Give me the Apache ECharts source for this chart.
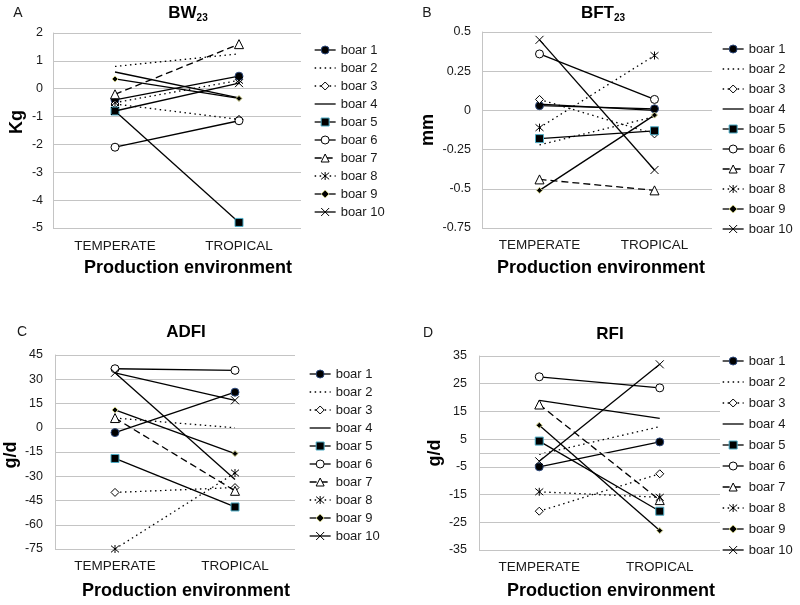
<!DOCTYPE html>
<html><head><meta charset="utf-8">
<script src="https://cdn.jsdelivr.net/npm/echarts@6/dist/echarts.min.js"></script>
<style>html,body{margin:0;padding:0;background:#fff}#c{width:800px;height:605px}</style>
</head><body><div id="c"></div>
<script>
// ---------- data ----------
const categories = ['TEMPERATE', 'TROPICAL'];
const boarNames = ['boar 1','boar 2','boar 3','boar 4','boar 5','boar 6','boar 7','boar 8','boar 9','boar 10'];
// [temperate, tropical] per boar
const bw23 = [[-0.4,0.45],[0.8,1.25],[-0.55,-1.1],[0.6,-0.33],[-0.8,-4.8],[-2.1,-1.15],[-0.2,1.6],[-0.5,0.3],[0.35,-0.35],[-0.8,0.2]];
const bft23 = [[0.03,0.01],[-0.22,-0.04],[0.07,-0.15],[0.04,0.0],[-0.18,-0.13],[0.36,0.07],[-0.44,-0.51],[-0.11,0.35],[-0.51,-0.03],[0.45,-0.38]];
const adfi = [[-3,22],[6,0],[-40,-37],[34,-32],[-19,-49],[36.5,35.5],[6,-39],[-75,-28],[11,-16],[34,17]];
const rfi = [[-5,4],[-0.5,9.5],[-21,-7.5],[19,12.5],[4.3,-21],[27.5,23.5],[17.5,-17],[-14,-16],[10,-28],[-3,32]];
const bwTicks = [-5,-4,-3,-2,-1,0,1,2];
const bftTicks = [-0.75,-0.5,-0.25,0,0.25,0.5];
const adfiTicks = [-75,-60,-45,-30,-15,0,15,30,45];
const rfiTicks = [-35,-25,-15,-5,5,15,25,35];
const panelTitles = [['BW','23'],['BFT','23'],['ADFI',''],['RFI','']];
const panelLetters = ['A','B','C','D'];
const yNames = ['Kg','mm','g/d','g/d'];
const xName = 'Production environment';

// ---------- styles ----------
const FONT = '"Liberation Sans", Arial, sans-serif';
const GRIDC = '#c4c4c4';
const TXT = '#1a1a1a';
const AST = 'path://M0,1L10,11M0,11L10,1M5,0L5,12';
const XS = 'path://M0,0L10,10M0,10L10,0';
const DOT = [1.5, 3.5], DASH = [7, 4];
const boarStyle = [
  {ln:'solid', sym:'circle',  sz:8, fill:'#000', stroke:'#2e4a7d'},
  {ln:DOT,     sym:'circle',  sz:0, fill:'transparent', stroke:'transparent'},
  {ln:DOT,     sym:'diamond', sz:8, fill:'#fff', stroke:'#000'},
  {ln:'solid', sym:'circle',  sz:0, fill:'transparent', stroke:'transparent'},
  {ln:'solid', sym:'rect',    sz:8, fill:'#000', stroke:'#4bacc6'},
  {ln:'solid', sym:'circle',  sz:8, fill:'#fff', stroke:'#000'},
  {ln:DASH,    sym:'triangle',sz:9, fill:'#fff', stroke:'#000'},
  {ln:DOT,     sym:AST,       sz:8, fill:'none', stroke:'#000'},
  {ln:'solid', sym:'diamond', sz:6, fill:'#000', stroke:'#d2d28c'},
  {ln:'solid', sym:XS,        sz:8, fill:'none', stroke:'#000'}
];

const panels = [bw23, bft23, adfi, rfi];
const tickSets = [bwTicks, bftTicks, adfiTicks, rfiTicks];
const grids = [
  {left:53, top:33, width:248, height:195},
  {left:482, top:32, width:230, height:196},
  {left:55, top:355, width:240, height:194},
  {left:479, top:356, width:241, height:194}
];
const xLabelMargin = [11, 10.5, 10, 10.5];
const yLabelMargin = [10, 11, 12, 12];
const legendPos = [
  {left:314, top:43.5, itemGap:5},
  {left:722, top:42.5, itemGap:7},
  {left:309, top:367.5, itemGap:5},
  {left:722, top:354.5, itemGap:8}
];
const titlePos = [[188,13],[603,13],[186,332],[610,334]];
const letterPos = [[18,13],[427,13],[22,332],[428,333]];
const yNamePos = [[17.5,122],[428,130],[11,455],[435,453]];
const xNamePos = [[188,268],[601,268],[186,591],[611,591]];

const xAxes = [], yAxes = [], series = [], legends = [], graphics = [];
panels.forEach((pd, i) => {
  const t = tickSets[i];
  xAxes.push({type:'category', gridIndex:i, data:categories, boundaryGap:true,
    axisLine:{show:false}, axisTick:{show:false}, splitLine:{show:false},
    axisLabel:{fontFamily:FONT, fontSize:13.5, color:TXT, margin:xLabelMargin[i]}});
  yAxes.push({type:'value', gridIndex:i, min:t[0], max:t[t.length-1], interval:t[1]-t[0],
    axisLine:{show:true, lineStyle:{color:GRIDC}}, axisTick:{show:false},
    splitLine:{show:true, lineStyle:{color:GRIDC, width:1}},
    axisLabel:{fontFamily:FONT, fontSize:12.5, color:TXT, margin:yLabelMargin[i]}});
  pd.forEach((vals, j) => {
    const s = boarStyle[j];
    const ser = {type:'line', name:boarNames[j], xAxisIndex:i, yAxisIndex:i, data:vals,
      symbol:s.sym, symbolSize:s.sz, showSymbol:true, silent:true, animation:false,
      itemStyle:{color:s.fill, borderColor:s.stroke, borderWidth:1, opacity:1},
      lineStyle:{color:'#000', width:1.3, type:s.ln},
      emphasis:{disabled:true}, z:2+j};
    if (i === 3 && j === 0) {
      ser.markLine = {silent:true, symbol:'none', animation:false, label:{show:false},
        lineStyle:{color:GRIDC, type:'solid', width:1}, data:[{yAxis:0}]};
    }
    series.push(ser);
  });
  legends.push(Object.assign({orient:'vertical', data:boarNames, itemWidth:21, itemHeight:10,
    selectedMode:false, padding:0, icon:undefined,
    textStyle:{fontFamily:FONT, fontSize:13, color:TXT},
    itemStyle:{borderWidth:1}, lineStyle:{width:1.3}}, legendPos[i]));
  // panel texts
  graphics.push({type:'text', x:letterPos[i][0], y:letterPos[i][1], silent:true,
    style:{text:panelLetters[i], font:'14px ' + FONT, fill:TXT, align:'center', verticalAlign:'middle', textAlign:'center', textVerticalAlign:'middle'}});
  const tt = panelTitles[i];
  graphics.push({type:'text', x:titlePos[i][0], y:titlePos[i][1], silent:true,
    style:{text:'{m|' + tt[0] + '}' + (tt[1] ? '{s|' + tt[1] + '}' : ''), fill:'#000',
      align:'center', verticalAlign:'middle', textAlign:'center', textVerticalAlign:'middle',
      rich:{m:{fontSize:17, fontWeight:'bold', fontFamily:FONT, lineHeight:20, fill:'#000'},
            s:{fontSize:10, fontWeight:'bold', fontFamily:FONT, lineHeight:12, verticalAlign:'bottom', fill:'#000'}}}});
  graphics.push({type:'text', x:yNamePos[i][0], y:yNamePos[i][1], rotation:Math.PI/2, silent:true,
    style:{text:yNames[i], font:'bold 18px ' + FONT, fill:'#000', align:'center', verticalAlign:'middle', textAlign:'center', textVerticalAlign:'middle'}});
  graphics.push({type:'text', x:xNamePos[i][0], y:xNamePos[i][1], silent:true,
    style:{text:xName, font:'bold 18px ' + FONT, fill:'#000', align:'center', verticalAlign:'middle', textAlign:'center', textVerticalAlign:'middle'}});
});

const chart = echarts.init(document.getElementById('c'), null, {renderer:'canvas'});
chart.setOption({
  animation:false,
  backgroundColor:'#fff',
  textStyle:{fontFamily:FONT},
  grid:grids,
  xAxis:xAxes,
  yAxis:yAxes,
  legend:legends,
  series:series,
  graphic:{elements:graphics}
});
</script></body></html>
